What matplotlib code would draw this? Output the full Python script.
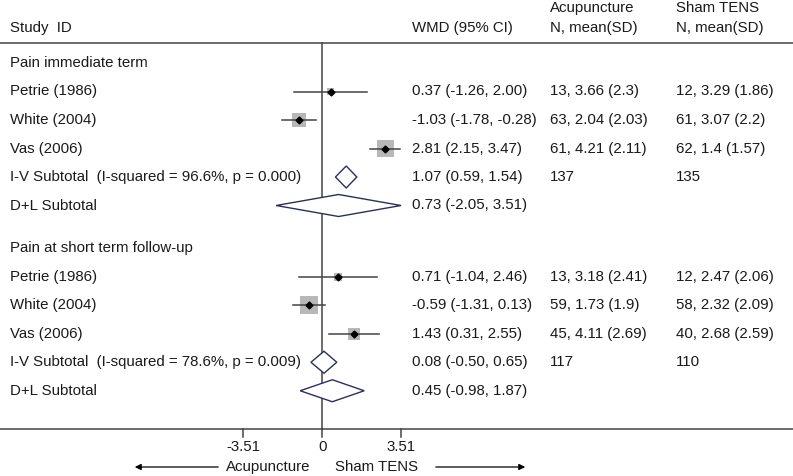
import numpy as np
import matplotlib
matplotlib.use("Agg")
import matplotlib.pyplot as plt
from matplotlib.patches import Rectangle, Polygon
from matplotlib import transforms

plt.rcParams["font.family"] = ["Liberation Sans", "DejaVu Sans"]
plt.rcParams["font.size"] = 10.8

# 数据
studies = ["Petrie (1986)", "White (2004)", "Vas (2006)"]
group_titles = ["Pain immediate term", "Pain at short term follow-up"]

wmd = [[0.37, -1.03, 2.81], [0.71, -0.59, 1.43]]
ci_lo = [[-1.26, -1.78, 2.15], [-1.04, -1.31, 0.31]]
ci_hi = [[2.00, -0.28, 3.47], [2.46, 0.13, 2.55]]

acu_n = [[13, 63, 61], [13, 59, 45]]
acu_mean = [[3.66, 2.04, 4.21], [3.18, 1.73, 4.11]]
acu_sd = [[2.3, 2.03, 2.11], [2.41, 1.9, 2.69]]
sham_n = [[12, 61, 62], [12, 58, 40]]
sham_mean = [[3.29, 3.07, 1.4], [2.47, 2.32, 2.68]]
sham_sd = [[1.86, 2.2, 1.57], [2.06, 2.09, 2.59]]

iv_est = [1.07, 0.08]
iv_lo = [0.59, -0.50]
iv_hi = [1.54, 0.65]
i_squared = [96.6, 78.6]
p_het = [0.000, 0.009]
acu_total = [137, 117]
sham_total = [135, 110]

dl_est = [0.73, 0.45]
dl_lo = [-2.05, -0.98]
dl_hi = [3.51, 1.87]

axis_ticks = [-3.51, 0, 3.51]

# 版面（像素）
W, H = 793, 476
X0_PX, PX_PER_UNIT = 322.2, 22.46
TEXT_C = "#1a1a1a"
LINE_C = "#444444"
DIAMOND_C = "#2b2f5e"

fig = plt.figure(figsize=(W / 100, H / 100), dpi=100)
ax = fig.add_axes([0, 0, 1, 1])
ax.set_xlim(-X0_PX / PX_PER_UNIT, (W - X0_PX) / PX_PER_UNIT)
ax.set_ylim(H, 0)
ax.axis("off")
tr = transforms.blended_transform_factory(ax.transAxes, ax.transData)


def col(px):
    return px / W


def txt(px, y, s, ha="left"):
    ax.text(col(px), y, s, transform=tr, ha=ha, va="center", color=TEXT_C)


# 表头
txt(10, 28, "Study  ID")
txt(412, 28, "WMD (95% CI)")
txt(550, 8, "Acupuncture")
txt(550, 28, "N, mean(SD)")
txt(676, 8, "Sham TENS")
txt(676, 28, "N, mean(SD)")

top_y, bottom_y = 42.5, 429
ax.plot([col(0), col(W)], [top_y, top_y], transform=tr, color=LINE_C, lw=1.1)
ax.plot([col(0), col(W)], [bottom_y, bottom_y], transform=tr, color=LINE_C, lw=1.1)
ax.plot([0, 0], [top_y, bottom_y], color=LINE_C, lw=1.1)

pitch = 28.5
y = 63
for g in range(2):
    txt(10, y, group_titles[g])
    est = np.array(wmd[g])
    lo = np.array(ci_lo[g])
    hi = np.array(ci_hi[g])
    se = (hi - lo) / (2 * 1.96)
    w = 1 / se ** 2
    pct = 100 * w / w.sum()
    for i, name in enumerate(studies):
        y += pitch
        side = 2.32 * np.sqrt(pct[i])
        ax.add_patch(Rectangle((est[i] - side / 2 / PX_PER_UNIT, y - side / 2),
                               side / PX_PER_UNIT, side, facecolor="#b8b8b8",
                               edgecolor="none", zorder=2))
        ax.plot([lo[i], hi[i]], [y, y], color=LINE_C, lw=1.1, zorder=3)
        ax.plot(est[i], y, marker="D", ms=3.5, color="black", zorder=4)
        txt(10, y, name)
        txt(412, y, f"{est[i]:.2f} ({lo[i]:.2f}, {hi[i]:.2f})")
        txt(550, y, f"{acu_n[g][i]}, {acu_mean[g][i]:g} ({acu_sd[g][i]:g})")
        txt(676, y, f"{sham_n[g][i]}, {sham_mean[g][i]:g} ({sham_sd[g][i]:g})")
    # I-V 合并
    y += pitch
    ax.add_patch(Polygon([(iv_lo[g], y), (iv_est[g], y - 11), (iv_hi[g], y), (iv_est[g], y + 11)],
                         closed=True, facecolor="white", edgecolor=DIAMOND_C, lw=1.0, zorder=3))
    txt(10, y, f"I-V Subtotal  (I-squared = {i_squared[g]:.1f}%, p = {p_het[g]:.3f})")
    txt(412, y, f"{iv_est[g]:.2f} ({iv_lo[g]:.2f}, {iv_hi[g]:.2f})")
    txt(550, y, str(acu_total[g]))
    txt(676, y, str(sham_total[g]))
    # D+L 合并
    y += pitch
    ax.add_patch(Polygon([(dl_lo[g], y), (dl_est[g], y - 11), (dl_hi[g], y), (dl_est[g], y + 11)],
                         closed=True, facecolor="white", edgecolor=DIAMOND_C, lw=1.0, zorder=3))
    txt(10, y, "D+L Subtotal")
    txt(412, y, f"{dl_est[g]:.2f} ({dl_lo[g]:.2f}, {dl_hi[g]:.2f})")
    y += 1.5 * pitch

# 底部刻度
for t in axis_ticks:
    ax.plot([t, t], [bottom_y, bottom_y + 8], color=LINE_C, lw=1.1)
    ax.text(t, 447, f"{t:g}", ha="center", va="center", color=TEXT_C)

txt(310, 467, "Acupuncture", ha="right")
txt(335, 467, "Sham TENS")
ax.annotate("", xy=(col(132), 467), xytext=(col(221), 467), xycoords=tr, textcoords=tr,
            arrowprops=dict(arrowstyle="-|>", color="black", lw=0.9, mutation_scale=9))
ax.annotate("", xy=(col(528), 467), xytext=(col(433), 467), xycoords=tr, textcoords=tr,
            arrowprops=dict(arrowstyle="-|>", color="black", lw=0.9, mutation_scale=9))

fig.savefig("out.png", dpi=100)
